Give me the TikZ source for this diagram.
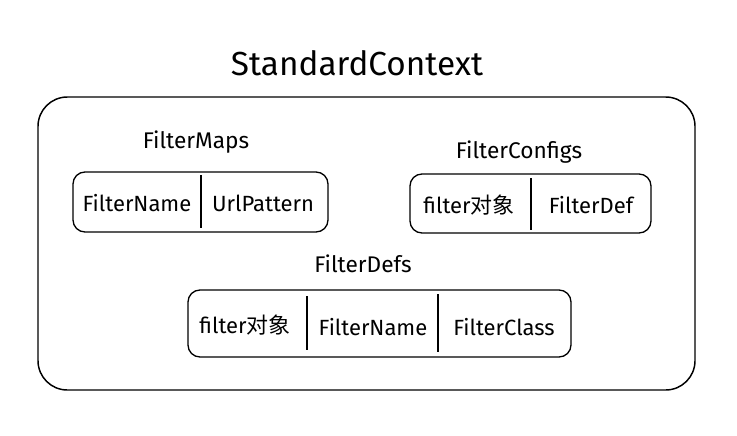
\documentclass[tikz,border=0pt]{standalone}
\usepackage{fontspec}
\setmainfont{Fira Sans}
\newfontfamily\cjk{Noto Sans CJK SC}
\usetikzlibrary{positioning}

\begin{document}
\begin{tikzpicture}[
    x=0.75pt, y=-0.75pt,
    ctxbox/.style={rectangle, draw, rounded corners=22pt, line width=1.1pt},
    tblbox/.style={rectangle, draw, rounded corners=9pt, line width=1pt},
    tbllabel/.style={font=\fontsize{17}{20}\selectfont, inner sep=0pt},
    cell/.style={font=\fontsize{16.5}{20}\selectfont, inner sep=0pt},
    divider/.style={line width=1.1pt}
  ]
    \useasboundingbox (0,0) rectangle (737,435);

    % outer context
    \node[font=\fontsize{25}{30}\selectfont] (title) at (357,63) {StandardContext};
    \node[ctxbox, minimum width=657*0.75pt, minimum height=293*0.75pt] (ctx) at (366.5,243.5) {};

    % FilterMaps
    \node[tbllabel] (fmlabel) at (196,142) {FilterMaps};
    \node[tblbox, minimum width=255*0.75pt, minimum height=60*0.75pt] (fm) at (200.5,202) {};
    \node[cell] (fmname) at (137,203) {FilterName};
    \node[cell] (fmurl)  at (263,203) {UrlPattern};
    \draw[divider] (201,175) -- (201,228);

    % FilterConfigs
    \node[tbllabel] (fclabel) at (519,152) {FilterConfigs};
    \node[tblbox, minimum width=241*0.75pt, minimum height=59*0.75pt] (fc) at (530.5,203.5) {};
    \node[cell] (fcobj) at (469,205) {filter{\cjk 对象}};
    \node[cell] (fcdef) at (591,205) {FilterDef};
    \draw[divider] (531,178) -- (531,230);

    % FilterDefs
    \node[tbllabel] (fdlabel) at (363,264) {FilterDefs};
    \node[tblbox, minimum width=383*0.75pt, minimum height=67*0.75pt] (fd) at (379.5,323.5) {};
    \node[cell] (fdobj)   at (245,325) {filter{\cjk 对象}};
    \node[cell] (fdname)  at (373,327) {FilterName};
    \node[cell] (fdclass) at (504,327) {FilterClass};
    \draw[divider] (307,296) -- (307,350);
    \draw[divider] (438,294) -- (438,352);
  \end{tikzpicture}
\end{document}
